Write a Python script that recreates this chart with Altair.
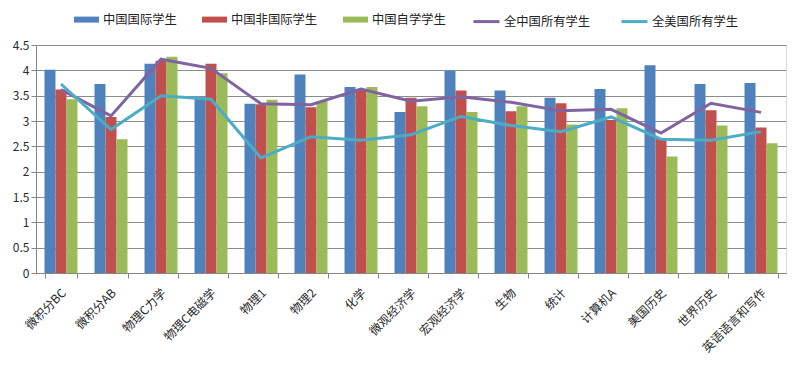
import altair as alt
import pandas as pd

categories = ["微积分BC", "微积分AB", "物理C力学", "物理C电磁学", "物理1", "物理2", "化学",
              "微观经济学", "宏观经济学", "生物", "统计", "计算机A", "美国历史", "世界历史", "英语语言和写作"]
bar_series = ["中国国际学生", "中国非国际学生", "中国自学学生"]
line_series = ["全中国所有学生", "全美国所有学生"]

intl = [4.01, 3.73, 4.13, 3.47, 3.34, 3.92, 3.67, 3.18, 3.99, 3.60, 3.46, 3.63, 4.10, 3.73, 3.75]
nonintl = [3.62, 3.08, 4.19, 4.13, 3.33, 3.27, 3.62, 3.46, 3.60, 3.19, 3.35, 3.02, 2.66, 3.21, 2.87]
selfstudy = [3.43, 2.64, 4.27, 3.94, 3.42, 3.39, 3.67, 3.29, 3.18, 3.29, 2.93, 3.25, 2.30, 2.91, 2.56]
all_cn = [3.62, 3.10, 4.22, 4.04, 3.34, 3.32, 3.63, 3.39, 3.48, 3.37, 3.20, 3.23, 2.76, 3.35, 3.17]
all_us = [3.73, 2.83, 3.50, 3.43, 2.27, 2.69, 2.62, 2.73, 3.09, 2.91, 2.79, 3.08, 2.64, 2.62, 2.79]
y_ticks = [0, 0.5, 1, 1.5, 2, 2.5, 3, 3.5, 4, 4.5]

bar_colors = ["#4F81BD", "#C0504D", "#9BBB59"]
line_colors = ["#8064A2", "#4BACC6"]

bar_rows = []
for s, vals in zip(bar_series, [intl, nonintl, selfstudy]):
    for c, v in zip(categories, vals):
        bar_rows.append({"cat": c, "series": s, "value": v})
bars_df = pd.DataFrame(bar_rows)

line_rows = []
for s, vals in zip(line_series, [all_cn, all_us]):
    for c, v in zip(categories, vals):
        line_rows.append({"cat": c, "series": s, "value": v})
lines_df = pd.DataFrame(line_rows)

FONT = "Noto Sans CJK SC"

x_enc = alt.X(
    "cat:N", sort=categories, title=None,
    scale=alt.Scale(paddingInner=0.34, paddingOuter=0.17),
    axis=alt.Axis(labelAngle=-45, labelFontSize=12, labelColor="#2a2a2a", labelFont=FONT,
                  tickBand="extent", ticks=True, tickColor="#868686", tickSize=5,
                  domainColor="#868686", labelPadding=9, labelOffset=-1, grid=False),
)
y_enc = alt.Y(
    "value:Q", title=None,
    scale=alt.Scale(domain=[0, 4.5], nice=False),
    axis=alt.Axis(values=y_ticks, format="~g",
                  labelFontSize=12, labelColor="#2a2a2a", labelFont=FONT,
                  grid=True, gridColor="#8C8C8C", gridWidth=1,
                  domainColor="#868686", tickColor="#868686", tickSize=5),
)

bars = alt.Chart(bars_df).mark_bar().encode(
    x=x_enc,
    y=y_enc,
    xOffset=alt.XOffset("series:N", sort=bar_series,
                        scale=alt.Scale(paddingInner=0, paddingOuter=0)),
    fill=alt.Fill("series:N", sort=bar_series,
                  scale=alt.Scale(domain=bar_series, range=bar_colors),
                  legend=alt.Legend(title=None, orient="none", direction="horizontal",
                                    legendX=38, legendY=-38,
                                    symbolType="M-1,-0.24H1V0.24H-1Z", symbolSize=625,
                                    symbolStrokeWidth=0,
                                    labelFontSize=12.3, labelFont=FONT, labelColor="#222222",
                                    labelOffset=4, columnPadding=25)),
)

lines = alt.Chart(lines_df).mark_line(strokeWidth=3).encode(
    x=x_enc,
    y=y_enc,
    stroke=alt.Stroke("series:N", sort=line_series,
                      scale=alt.Scale(domain=line_series, range=line_colors),
                      legend=alt.Legend(title=None, orient="none", direction="horizontal",
                                        legendX=436, legendY=-38,
                                        symbolType="stroke", symbolSize=676,
                                        symbolStrokeWidth=3,
                                        labelFontSize=12.3, labelFont=FONT, labelColor="#222222",
                                        labelOffset=3, columnPadding=24)),
)

chart = alt.layer(bars, lines).resolve_scale(fill="independent", stroke="independent").properties(
    width=750, height=228,
    autosize=alt.AutoSizeParams(type="none"),
    padding={"left": 28, "top": 37, "right": 6, "bottom": 85},
).configure_view(stroke=None).configure(font=FONT, background="white")

chart.save("out.html", embed_options={"renderer": "svg", "actions": False})
